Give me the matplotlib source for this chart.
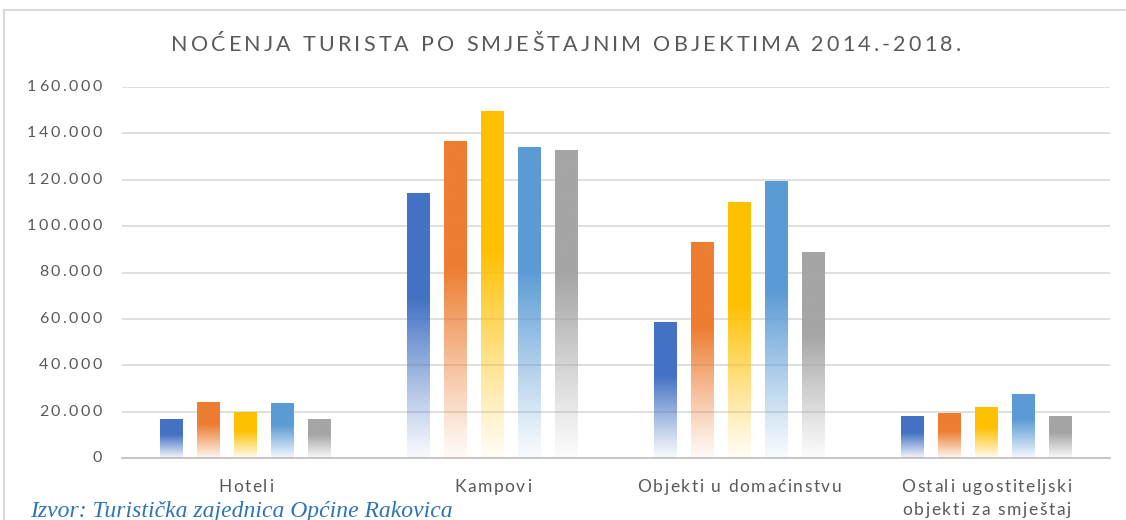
import numpy as np
import matplotlib
matplotlib.use('Agg')
import matplotlib.pyplot as plt
from matplotlib.colors import to_rgb
from matplotlib.patches import Rectangle
from matplotlib.font_manager import FontProperties, findfont
from matplotlib import ft2font

# data
categories = ['Hoteli', 'Kampovi', 'Objekti u domaćinstvu',
              'Ostali ugostiteljski\nobjekti za smještaj']
years = ['2014', '2015', '2016', '2017', '2018']
v2014 = [16800, 114000, 58600, 17700]
v2015 = [24100, 136300, 93100, 19400]
v2016 = [19800, 149600, 110400, 21600]
v2017 = [23700, 133700, 119400, 27600]
v2018 = [16800, 132400, 88800, 17700]
series = [v2014, v2015, v2016, v2017, v2018]
colors = ['#4472C4', '#ED7D31', '#FFC000', '#5B9BD5', '#A5A5A5']
yticks = list(range(0, 160001, 20000))
title = 'NOĆENJA TURISTA PO SMJEŠTAJNIM OBJEKTIMA 2014.-2018.'
source = 'Izvor: Turistička zajednica Općine Rakovica'

W, H, DPI = 1126, 520, 100
plt.rcParams['font.family'] = ['Lato', 'DejaVu Sans']
GREY = '#595959'

fig = plt.figure(figsize=(W / DPI, H / DPI), dpi=DPI)
# chart frame
fig.patches.append(Rectangle((4 / W, -0.05), 1.2, 1 - 10 / H + 0.05,
                             transform=fig.transFigure, fill=False,
                             edgecolor='#D9D9D9', lw=1.5))
ax = fig.add_axes([122 / W, 1 - 458 / H, (1110 - 122) / W, (458 - 87) / H])

_font = ft2font.FT2Font(findfont(FontProperties(family='Lato')))


def spaced_text(s, x, y, size, track, ha='center', color=GREY):
    # letter-spaced text, x and y in pixels from top-left
    _font.set_size(size, DPI)
    adv = [_font.load_char(ord(c)).linearHoriAdvance / 65536 for c in s]
    total = sum(adv) + track * (len(s) - 1)
    if ha == 'center':
        cx = x - total / 2
    elif ha == 'right':
        cx = x - total
    else:
        cx = x
    for c, a in zip(s, adv):
        if c != ' ':
            fig.text((cx + a / 2) / W, 1 - y / H, c, ha='center', va='center',
                     fontsize=size, color=color)
        cx += a + track


x = np.arange(len(categories))
step = 0.15
width = 0.09


def grad_bar(ax, x0, h, color):
    # solid at the top, fading to white near the base
    n = 200
    t = np.linspace(0, 1, n)[:, None]  # 0 bottom, 1 top
    if h > 50000:
        alpha = np.clip(0.04 + 0.96 * (t / 0.6) ** 1.1, 0, 1)
    else:
        alpha = np.clip(0.06 + 0.94 * (t / 0.6), 0, 1)
    img = np.ones((n, 1, 4))
    img[:, 0, :3] = np.array(to_rgb(color))
    img[:, 0, 3] = alpha[:, 0]
    ax.imshow(img, extent=(x0 - width / 2, x0 + width / 2, 0, h),
              origin='lower', aspect='auto', interpolation='bilinear', zorder=3)


for i, (vals, c) in enumerate(zip(series, colors)):
    for j, v in enumerate(vals):
        grad_bar(ax, x[j] + (i - 2) * step, v, c)

ax.set_xlim(-0.5, len(categories) - 0.5)
ax.set_ylim(0, 160000)
ax.set_yticks(yticks)
ax.set_xticks(x)
ax.tick_params(axis='both', length=0, labelleft=False, labelbottom=False)
ax.grid(axis='y', color='#D9D9D9', lw=1.2, zorder=0)
ax.set_axisbelow(True)
for s in ['top', 'right', 'left']:
    ax.spines[s].set_visible(False)
ax.spines['bottom'].set_color('#BFBFBF')
ax.spines['bottom'].set_linewidth(1.2)
ax.set_facecolor('none')

# tick labels, letter-spaced like the original
for t in yticks:
    py = H - ax.transData.transform((0, t))[1]
    spaced_text(f'{t:,}'.replace(',', '.'), 102, py, 11.5, 2.6, ha='right')
for j, cat in enumerate(categories):
    px = ax.transData.transform((x[j], 0))[0]
    for k, line in enumerate(cat.split('\n')):
        spaced_text(line, px, 487 + 23 * k, 12.5, 1.6)

spaced_text(title, 566, 45, 15.5, 3.2)
fig.text(30 / W, 1 - 511 / H, source, ha='left', va='center', fontsize=17,
         style='italic', family='Liberation Serif', color='#2E74B5')

fig.savefig('out.png', dpi=DPI)
